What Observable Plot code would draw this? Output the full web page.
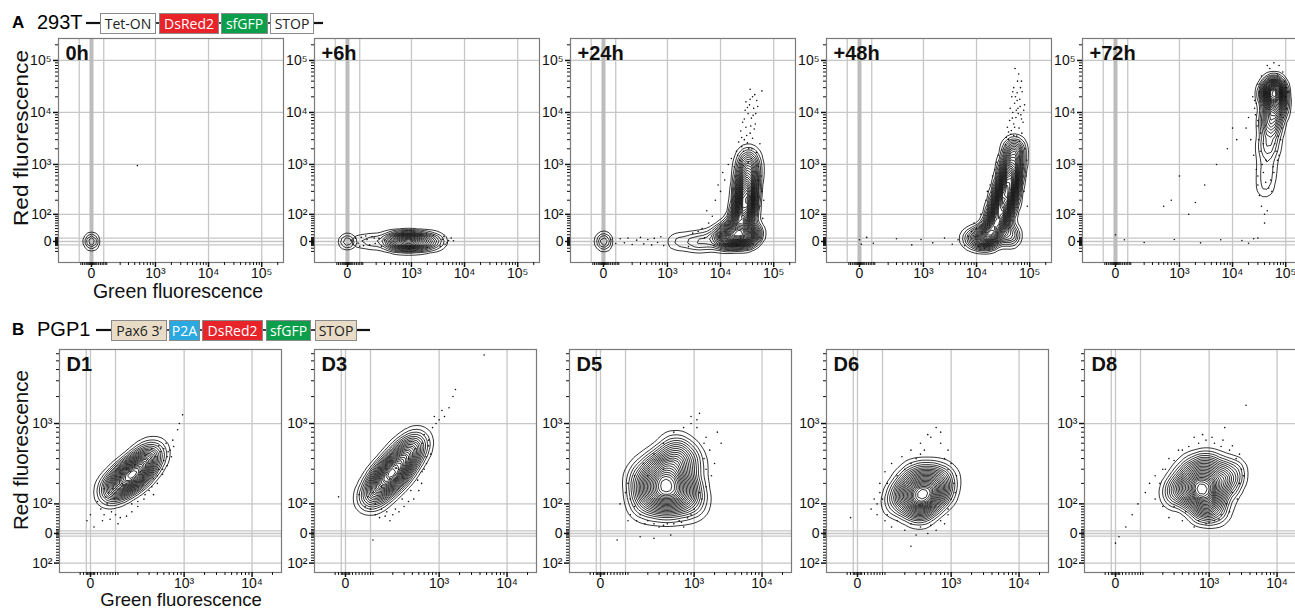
<!DOCTYPE html>
<html><head><meta charset="utf-8">
<script src="https://cdn.jsdelivr.net/npm/d3@7"></script>
<script src="https://cdn.jsdelivr.net/npm/@observablehq/plot@0.6"></script>
<style>
body{margin:0;background:#fff;}
#fig{position:relative;width:1295px;height:611px;overflow:hidden;background:#fff;}
#fig > div{position:absolute;}
#fig svg{max-width:none !important;}
</style></head>
<body><div id="fig"></div>
<script>
// ================= DATA =================
const rowATickValuesX = [0, 1e3, 1e4, 1e5];
const rowATickLabelsX = ["0", "10³", "10⁴", "10⁵"];
const rowATickValuesY = [0, 1e2, 1e3, 1e4, 1e5];
const rowATickLabelsY = ["0", "10²", "10³", "10⁴", "10⁵"];
const rowBTickValuesX = [0, 1e3, 1e4];
const rowBTickLabelsX = ["0", "10³", "10⁴"];
const rowBTickValuesY = [-1e2, 0, 1e2, 1e3];
const rowBTickLabelsY = ["10²", "0", "10²", "10³"];
const rowAGridX = [-70, 70, 1e3, 1e4, 1e5];
const rowAGridY = [-10, 0, 10, 1e2, 1e3, 1e4, 1e5];
const rowBGridX = [-12, 0, 80, 1e3, 1e4];
const rowBGridY = [-1e2, -8, 0, 8, 1e2, 1e3];

const rowAPanels = ["0h", "+6h", "+24h", "+48h", "+72h"];
const rowBPanels = ["D1", "D3", "D5", "D6", "D8"];
const rowAConstruct = ["Tet-ON", "DsRed2", "sfGFP", "STOP"];
const rowBConstruct = ["Pax6 3‘", "P2A", "DsRed2", "sfGFP", "STOP"];

// Population cores: [green, red, relative weight]
const h0Core = [[0, -7, 1], [0, 0, 1.5], [0, 7, 1]];
const h6Knot = [[0, 0, 1]];
const h6Core = [[56, 0, 1], [124, 0, 1], [214, 0, 1.5], [345, 0, 2.5], [495, 0, 4], [674, 0, 6], [917, 0, 7], [1304, 0, 6], [1840, 0, 4], [2610, 0, 2.5], [3690, 0, 1]];
const h24Knot = [[0, 0, 1]];
const h24Core = [[1304, 0, 0.6], [2010, 0, 0.8], [3100, 0, 1], [4780, 0, 1.4], [8020, 9, 2], [12400, 9, 4], [19100, 12, 6], [29400, 15, 6], [41600, 24, 3], [14000, 30, 3], [22700, 47, 7], [27000, 105, 8], [29400, 188, 9], [30700, 327, 8], [32100, 560, 6], [33500, 951, 4], [33500, 1486, 2]];
const h48Core = [[8020, 9, 2], [12400, 9, 4], [17500, 15, 6], [41600, 18, 3], [22700, 44, 7], [27000, 94, 8], [32100, 171, 9], [36500, 298, 9], [41600, 512, 8], [45400, 871, 6], [49400, 1486, 4], [51700, 2310, 2]];
const h72Core = [[58800, 21200, 10], [58800, 33000, 7], [64100, 12500, 8], [53900, 7330, 6], [74000, 22000, 3], [46000, 22000, 3], [51700, 4300, 4], [47300, 2310, 3], [45400, 1245, 2], [43400, 669, 1.5], [41600, 391, 1], [39800, 280, 0.6]];
const d1Core = [[54, 146, 2], [84, 182, 4], [119, 218, 6], [164, 259, 7], [221, 314, 6], [283, 390, 4], [362, 483, 2]];
const d3Core = [[76, 118, 2], [110, 166, 4], [151, 218, 6], [205, 281, 7], [273, 370, 6], [362, 483, 4], [477, 628, 2]];
const d5Core = [[402, 177, 10], [221, 171, 5], [745, 171, 5], [402, 101, 5], [445, 306, 6], [529, 483, 4], [264, 306, 4], [825, 351, 3], [183, 101, 3], [882, 101, 3], [151, 230, 2]];
const d6Core = [[375, 136, 10], [205, 146, 5], [627, 146, 5], [338, 79, 5], [445, 230, 5], [151, 101, 2], [745, 230, 3], [264, 230, 3]];
const d8Core = [[797, 171, 10], [445, 171, 5], [1470, 187, 5], [797, 94, 5], [945, 306, 5], [315, 146, 2], [2060, 266, 3], [529, 281, 3], [1240, 82, 3]];

// Individual events outside the outer contour: [green, red]
const h0Dots = [[450, 950]];
const h6Dots = [[30, -8], [45, 10], [60, -5], [80, 12], [95, -12], [120, 6], [140, -10], [160, 14], [190, -6], [230, 9], [260, -14], [300, 4], [3800, 6], [4300, -8], [5000, 3], [5600, 10], [4100, 15], [3500, -14], [700, 22], [1100, -20], [1500, 20], [900, -22], [2000, -18], [2600, 18], [20, 4], [70, -14], [110, 16], [180, 10], [4700, -4], [6200, 2]];
const h24Dots = [[40, 5], [70, -6], [100, 8], [130, -4], [160, 10], [200, -9], [250, 4], [300, 12], [350, -7], [420, 6], [500, -10], [560, 9], [650, -3], [750, 14], [850, -12],
  [21000, 1500], [25000, 2200], [28000, 3000], [32000, 2600], [36000, 4000], [30000, 5200], [26000, 6500], [38000, 7800], [33000, 9500], [42000, 12000], [29000, 11000], [45000, 6000], [40000, 3200], [24000, 4400], [35000, 14000], [48000, 17000], [60000, 26000], [39000, 2000], [47000, 1700], [52000, 900], [55000, 2500], [18000, 900], [20000, 1800], [44000, 22000],
  [23000, 1200], [27000, 1800], [31000, 3600], [34000, 2000], [37000, 5500], [41000, 8800], [28000, 7500], [32000, 12500], [36000, 18000], [25000, 3300], [22000, 2700], [43000, 4800], [46000, 9500], [50000, 13000], [38000, 1300], [27000, 950], [33000, 1100], [30000, 16000], [40000, 20000], [36000, 28000],
  [6000, 60], [4500, 40], [5500, 120], [8000, 200], [9000, 400], [11000, 700], [14000, 1000], [50000, 500], [60000, 300], [55000, 150], [62000, 80], [3000, 25], [2500, -15], [7000, 90], [10000, 300], [12000, 500], [16000, 1300], [58000, 600], [65000, 200], [3800, 30], [5000, 10], [7500, -12]];
const h48Dots = [[0, 5], [10, -8], [40, 12], [80, -5], [300, 8], [600, -10], [900, 6], [1500, -4], [2500, 10], [3500, -8], [4500, 5], [6000, -12], [7000, 15],
  [40000, 3000], [45000, 4500], [50000, 6000], [55000, 8000], [48000, 10000], [60000, 12000], [52000, 15000], [65000, 18000], [58000, 24000], [50000, 30000], [70000, 40000], [62000, 55000], [42000, 7000], [38000, 5200], [68000, 9000], [75000, 6500], [57000, 3500], [64000, 2800], [35000, 2400], [46000, 20000], [72000, 25000], [80000, 14000],
  [44000, 3800], [52000, 5200], [47000, 7800], [56000, 11000], [61000, 9500], [54000, 20000], [66000, 13000], [59000, 40000], [48000, 25000], [43000, 12000], [70000, 7500], [77000, 11000], [53000, 70000], [67000, 30000], [40000, 4200], [50000, 3600], [63000, 5000], [36000, 3300], [71000, 4000], [58000, 17000],
  [12000, 100], [15000, 200], [18000, 400], [22000, 800], [26000, 1500], [75000, 1000], [85000, 600], [78000, 300], [9000, 60], [8000, 30], [90000, 150], [14000, -20], [16000, 300], [20000, 600], [24000, 1100], [30000, 1900], [82000, 2000], [88000, 1200], [10000, 40], [11000, -15]];
const h72Dots = [[20000, 8000], [18000, 5000], [22000, 3000], [25000, 1500], [28000, 800], [30000, 400], [32000, 250], [35000, 150], [40000, 100], [26000, 12000], [24000, 20000], [30000, 35000], [35000, 50000], [50000, 70000], [70000, 55000], [95000, 40000], [100000, 20000], [90000, 8000], [80000, 3000], [75000, 1500], [60000, 700], [55000, 300], [45000, 120], [40000, 60], [30000, 600],
  [28000, 15000], [27000, 9000], [29000, 5500], [31000, 3000], [33000, 1800], [36000, 1000], [38000, 700], [42000, 450], [48000, 350], [52000, 500], [58000, 900], [66000, 1800], [72000, 3500], [85000, 5000], [105000, 12000], [98000, 30000], [88000, 60000], [75000, 80000], [45000, 80000], [32000, 25000], [26000, 17000], [30000, 7000], [34000, 4000], [38000, 2500], [43000, 1200], [62000, 2500], [70000, 1200], [80000, 9000], [110000, 25000], [60000, 90000],
  [5000, 1000], [3000, 400], [8000, 2000], [2000, 180], [1500, 100], [10000, 5000], [12000, 3000], [1000, 600], [700, 200], [500, 150],
  [0, 20], [50, 5], [200, -3], [800, 6], [2500, -4], [6000, 5], [15000, 3], [20000, -5], [25000, 8], [30000, 10]];
const d1Dots = [[30, 80], [40, 60], [50, 100], [60, 45], [45, 130], [70, 170], [20, 110], [80, 60], [100, 50], [130, 55], [160, 70], [200, 90], [250, 120], [300, 160], [350, 230], [420, 300], [500, 380], [560, 420], [620, 500], [700, 550], [680, 650], [540, 600], [450, 480], [380, 420], [300, 350], [220, 280], [-10, 40], [0, 60], [10, 20], [90, 30], [400, 200], [350, 140], [480, 260], [150, 280], [110, 200], [950, 1250], [850, 1000], [800, 850],
  [35, 40], [65, 70], [75, 120], [55, 150], [40, 170], [100, 240], [130, 300], [180, 340], [260, 430], [330, 520], [420, 560], [500, 520], [580, 480], [650, 420], [560, 330], [480, 300], [400, 250], [330, 180], [260, 140], [200, 110], [160, 100]];
const d3Dots = [[1400, 1500], [1200, 1200], [1000, 1100], [900, 1000], [800, 900], [4600, 5800], [1740, 2400], [1600, 2000], [700, 650], [750, 450], [650, 350], [600, 300], [550, 200], [500, 160], [420, 120], [350, 110], [300, 90], [250, 70], [200, 60], [150, 55], [100, 60], [80, 80], [60, 90], [70, 130], [-20, 130], [40, 140], [120, 50], [180, 40], [90, -20],
  [100, 100], [130, 80], [160, 70], [220, 80], [280, 120], [380, 160], [480, 220], [560, 280], [640, 420], [700, 560], [560, 600], [450, 520], [350, 400], [250, 300], [180, 230], [130, 180], [90, 150], [600, 750], [850, 1200], [1100, 1400]];
const d5Dots = [[1200, 1300], [1100, 1100], [900, 1000], [1500, 700], [2500, 600], [2000, 350], [1800, 250], [1500, 180], [1300, 120], [1000, 80], [800, 50], [600, 40], [400, 30], [300, 20], [200, 40], [150, 60], [120, 90], [100, 120], [80, 150], [60, 100], [90, 40], [50, -20], [150, -10], [250, -15], [450, -5], [700, 20], [350, 300], [200, 250], [1400, 400], [1700, 500], [2200, 800],
  [100, 60], [130, 40], [180, 30], [250, 30], [350, 25], [500, 30], [650, 35], [900, 60], [1200, 150], [1500, 300], [1400, 600], [1100, 900], [900, 1200], [700, 900], [500, 800], [350, 600], [250, 450], [170, 350], [120, 250], [90, 200]];
const d6Dots = [[40, 80], [50, 120], [70, 150], [60, 60], [90, 40], [120, 20], [200, 10], [300, -5], [450, 0], [600, 10], [800, 30], [900, 60], [1000, 120], [1100, 200], [900, 300], [800, 400], [700, 600], [500, 700], [400, 500], [350, 450], [300, 400], [250, 350], [200, 300], [150, 250], [100, 200], [600, 900], [1200, 250], [-20, 50], [250, -40],
  [60, 100], [70, 200], [90, 280], [120, 350], [180, 420], [250, 500], [350, 600], [450, 750], [700, 800], [900, 500], [1000, 350], [1150, 150], [900, 80], [700, 40], [500, 25], [350, 20], [250, 30], [150, 40], [100, 60], [80, 120]];
const d8Dots = [[30, 20], [50, 60], [70, 100], [100, 150], [120, 200], [150, 250], [200, 300], [250, 400], [350, 500], [500, 550], [700, 600], [900, 650], [1200, 600], [1500, 550], [2000, 500], [2500, 400], [3000, 300], [2800, 200], [2200, 150], [1800, 100], [1500, 60], [1200, 40], [900, 30], [600, 20], [400, 40], [250, 50], [10, -10], [3500, 1600], [1700, 900], [0, -30],
  [150, 120], [180, 200], [220, 300], [300, 380], [400, 500], [600, 700], [800, 750], [1100, 700], [1600, 650], [2200, 560], [2800, 450], [3200, 250], [2600, 120], [2000, 70], [1400, 45], [1000, 35], [700, 40], [450, 70], [300, 90], [200, 90]];

// ================= LAYOUT =================
const fig = document.getElementById("fig");
const FONT = "Liberation Sans, Arial, Helvetica, sans-serif";
const tf = c => v => Math.asinh(v / (2 * c)) / Math.LN10;   // biexponential-like display transform

// unlabelled minor ticks: a dense run around zero, then 2..9 within each decade
function minorTicks(lo, hi, denseMax, denseStep) {
  const t = [];
  for (let v = -90; v <= 90; v += 10) if (v !== 0 && (Math.abs(v) > denseMax)) t.push(v);
  for (let v = -denseMax; v <= denseMax; v += denseStep) if (v !== 0) t.push(v);
  for (let e = 2; e <= 5; e++) for (let m = 2; m <= 9; m++) t.push(m * 10 ** e);
  return t.filter(v => v >= lo && v <= hi);
}

const rows = {
  A: {tx: tf(63), ty: tf(33), xDomain: [-0.62, 3.61], yDomain: [-0.404, 3.904],
      xt: rowATickValuesX, xl: rowATickLabelsX, yt: rowATickValuesY, yl: rowATickLabelsY,
      gx: rowAGridX, gy: rowAGridY, thick: true,
      xMinor: minorTicks(-60, 250000, 30, 6), yMinor: minorTicks(-30, 260000, 12, 3),
      lefts: [58, 314, 570, 826, 1082], top: 38, w: 225, h: 224},
  B: {tx: tf(42), ty: tf(60), xDomain: [-0.456, 2.81], yDomain: [-0.434, 2.047],
      xt: rowBTickValuesX, xl: rowBTickLabelsX, yt: rowBTickValuesY, yl: rowBTickLabelsY,
      gx: rowBGridX, gy: rowBGridY, thick: false,
      xMinor: minorTicks(-30, 27000, 12, 4), yMinor: minorTicks(-130, 6700, 12, 4),
      lefts: [59, 314, 569, 826, 1084], top: 349, w: 222, h: 223}
};

const panels = [
  {row: "A", i: 0, label: rowAPanels[0], groups: [{d: h0Core, bw: 2, th: 5}], dots: h0Dots},
  {row: "A", i: 1, label: rowAPanels[1], groups: [{d: h6Knot, bw: 2.5, th: 4}, {d: h6Core, bw: 3, th: 18}], dots: h6Dots},
  {row: "A", i: 2, label: rowAPanels[2], groups: [{d: h24Knot, bw: 3, th: 5}, {d: h24Core, bw: 5, th: 26}], dots: h24Dots},
  {row: "A", i: 3, label: rowAPanels[3], groups: [{d: h48Core, bw: 5, th: 26}], dots: h48Dots},
  {row: "A", i: 4, label: rowAPanels[4], groups: [{d: h72Core, bw: 5, th: 26}], dots: h72Dots},
  {row: "B", i: 0, label: rowBPanels[0], groups: [{d: d1Core, bw: 7, th: 24}], dots: d1Dots},
  {row: "B", i: 1, label: rowBPanels[1], groups: [{d: d3Core, bw: 7, th: 24}], dots: d3Dots},
  {row: "B", i: 2, label: rowBPanels[2], groups: [{d: d5Core, bw: 9, th: 24}], dots: d5Dots},
  {row: "B", i: 3, label: rowBPanels[3], groups: [{d: d6Core, bw: 8, th: 24}], dots: d6Dots},
  {row: "B", i: 4, label: rowBPanels[4], groups: [{d: d8Core, bw: 8, th: 24}], dots: d8Dots}
];

// overlay svg for headers and axis titles
const svg = d3.select(fig).append("div").style("left", "0px").style("top", "0px")
  .append("svg").attr("width", 1295).attr("height", 611).style("font-family", FONT);

function header(y0, letter, cell, lead, names, fills, colors, xs, trail) {
  svg.append("text").attr("x", 12).attr("y", y0 + 15).attr("font-weight", "bold").attr("font-size", 17).text(letter);
  svg.append("text").attr("x", 37).attr("y", y0 + 16).attr("font-size", 20).text(cell);
  const mid = y0 + 10;
  svg.append("line").attr("x1", lead[0]).attr("x2", lead[1]).attr("y1", mid).attr("y2", mid).attr("stroke", "#111").attr("stroke-width", 2.2);
  svg.append("line").attr("x1", trail[0]).attr("x2", trail[1]).attr("y1", mid).attr("y2", mid).attr("stroke", "#111").attr("stroke-width", 2.2);
  names.forEach((n, k) => {
    const [a, b] = xs[k];
    if (k > 0) svg.append("line").attr("x1", xs[k - 1][1]).attr("x2", a).attr("y1", mid).attr("y2", mid).attr("stroke", "#111").attr("stroke-width", 1.6);
    svg.append("rect").attr("x", a + 0.5).attr("y", y0 + 0.5).attr("width", b - a - 1).attr("height", 20).attr("fill", fills[k]).attr("stroke", "#8a8a8a").attr("stroke-width", 1);
    svg.append("text").attr("x", (a + b) / 2).attr("y", y0 + 15.5).attr("text-anchor", "middle")
      .attr("font-family", "Open Sans, Noto Sans, sans-serif").attr("font-size", 14).attr("fill", colors[k]).text(n);
  });
}
header(13, "A", "293T", [86, 100], rowAConstruct, ["#ffffff", "#e8232a", "#0b9f4b", "#ffffff"], ["#222", "#fff", "#fff", "#222"],
  [[100, 156], [159, 219], [221, 268], [270, 314]], [314, 323]);
header(320, "B", "PGP1", [96, 111], rowBConstruct, ["#e9dcc6", "#2aa8e0", "#e8232a", "#0b9f4b", "#e9dcc6"], ["#222", "#fff", "#fff", "#fff", "#222"],
  [[111, 167], [169, 200], [202, 263], [266, 311], [315, 357]], [357, 370]);

function ytitle(x, cy, len) {
  svg.append("text").attr("transform", `translate(${x},${cy}) rotate(-90)`).attr("text-anchor", "middle")
    .attr("font-size", 20).attr("fill", "#111").attr("textLength", len).attr("lengthAdjust", "spacingAndGlyphs").text("Red fluorescence");
}
function xtitle(cx, y, fs) {
  svg.append("text").attr("x", cx).attr("y", y).attr("text-anchor", "middle").attr("font-size", fs).attr("fill", "#111").text("Green fluorescence");
}
ytitle(28, 138, 176); ytitle(28, 450, 160);
xtitle(178, 298, 19.5); xtitle(181, 606, 18.5);

const ML = 48, MR = 2, MT = 4, MB = 36;
const hasAxisMarks = typeof Plot.axisX === "function";

for (const p of panels) {
  const R = rows[p.row];
  const X = d => R.tx(d[0]), Y = d => R.ty(d[1]);
  const xLab = new Map(R.xt.map((v, k) => [R.tx(v), R.xl[k]]));
  const yLab = new Map(R.yt.map((v, k) => [R.ty(v), R.yl[k]]));
  const marks = [
    Plot.ruleX(R.gx, {x: R.tx, stroke: "#c6c6c6", strokeWidth: 1.3}),
    Plot.ruleY(R.gy, {y: R.ty, stroke: "#c6c6c6", strokeWidth: 1.3})
  ];
  if (R.thick) marks.push(Plot.ruleX([0], {x: R.tx, stroke: "#bcbcbc", strokeWidth: 4}));
  for (const g of p.groups) {
    marks.push(Plot.density(g.d, {x: X, y: Y, weight: d => d[2], bandwidth: g.bw, thresholds: g.th,
      stroke: "#111", strokeWidth: 0.85, clip: true}));
  }
  marks.push(Plot.dot(p.dots, {x: X, y: Y, r: 0.8, fill: "#111", stroke: null, clip: true}));
  marks.push(Plot.frame({stroke: "#7a7a7a", strokeWidth: 1.2}));
  marks.push(Plot.text([p.label], {text: d => d, frameAnchor: "top-left", dx: 7, dy: 7, textAnchor: "start", lineAnchor: "top",
    fontSize: 20, fontWeight: "bold", fill: "#111"}));
  let xOpt = {domain: R.xDomain}, yOpt = {domain: R.yDomain};
  if (hasAxisMarks) {
    marks.push(
      Plot.axisX(R.xMinor.map(R.tx), {tickSize: 3, tickFormat: () => "", label: null, stroke: "#111"}),
      Plot.axisX(R.xt.map(R.tx), {tickSize: 5, tickPadding: 1, tickFormat: v => xLab.get(v), label: null, fontSize: 14, stroke: "#111", fill: "#111", strokeWidth: 1.5}),
      Plot.axisY(R.yMinor.map(R.ty), {tickSize: 3, tickFormat: () => "", label: null, stroke: "#111"}),
      Plot.axisY(R.yt.map(R.ty), {tickSize: 5, tickPadding: 2, tickFormat: v => yLab.get(v), label: null, fontSize: 14, stroke: "#111", fill: "#111", strokeWidth: 1.5})
    );
  } else {
    xOpt = {...xOpt, ticks: R.xt.map(R.tx), tickFormat: v => xLab.get(v), label: null, tickSize: 5};
    yOpt = {...yOpt, ticks: R.yt.map(R.ty), tickFormat: v => yLab.get(v), label: null, tickSize: 5};
  }
  const W = ML + R.w + MR, H = MT + R.h + MB;
  const chart = Plot.plot({
    width: W, height: H,
    marginLeft: ML, marginRight: MR, marginTop: MT, marginBottom: MB,
    x: xOpt, y: yOpt,
    style: {background: "transparent", overflow: "visible", fontFamily: FONT, fontSize: "14px", color: "#111", maxWidth: "none"},
    marks
  });
  const holder = document.createElement("div");
  holder.style.left = (R.lefts[p.i] - ML) + "px";
  holder.style.top = (R.top - MT) + "px";
  holder.style.width = W + "px";
  holder.style.height = H + "px";
  holder.appendChild(chart);
  fig.appendChild(holder);
}
</script></body></html>
